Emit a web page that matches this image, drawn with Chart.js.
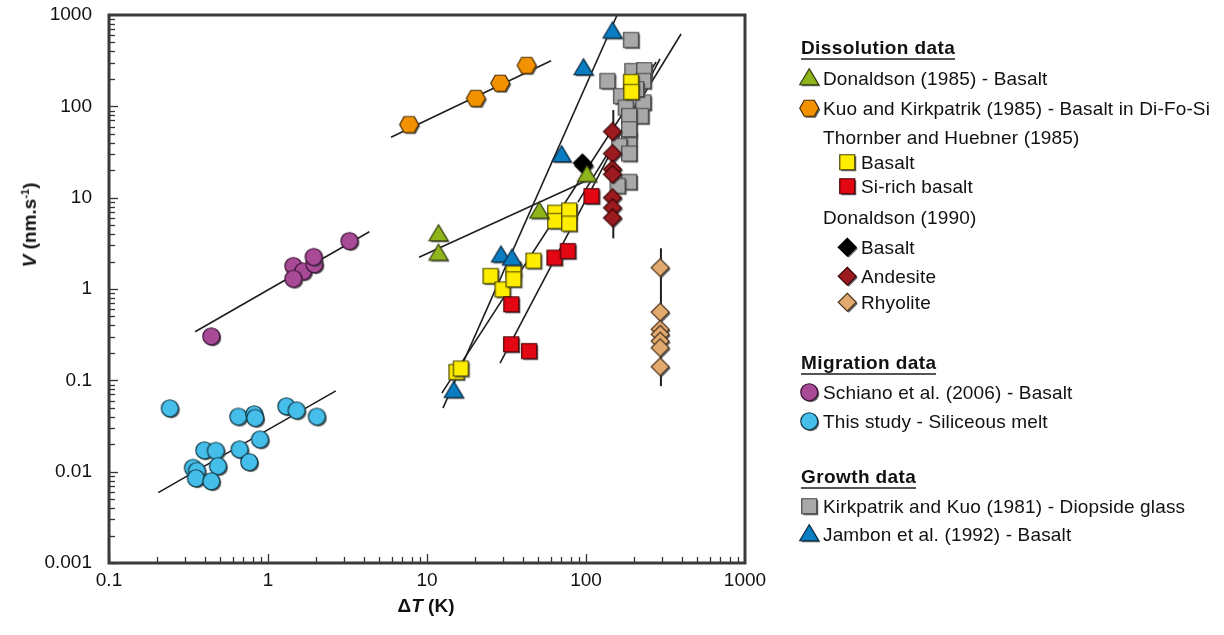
<!DOCTYPE html>
<html>
<head>
<meta charset="utf-8">
<script src="https://cdn.jsdelivr.net/npm/chart.js@4"></script>
<style>
html, body { margin: 0; padding: 0; background: #fff; }
#wrap { position: relative; width: 1224px; height: 635px; font-family: "Liberation Sans", Arial, sans-serif; color: #111; }
#c { position: absolute; left: 0; top: 0; }
.ttl { position: absolute; font-weight: bold; font-size: 19px; white-space: nowrap; }
.row { position: absolute; white-space: nowrap; font-size: 19px; letter-spacing: 0.15px; display: flex; align-items: center; height: 22px; }
.row img { margin-right: 1px; }
.hd { position: absolute; white-space: nowrap; font-weight: bold; font-size: 19px; letter-spacing: 0.4px; line-height: 20px; border-bottom: 2px solid #555; }
</style>
</head>
<body>
<div id="wrap">
  <canvas id="c" width="1224" height="635"></canvas>
  <div class="ttl" style="left:30px;top:225px;transform:translate(-50%,-50%) rotate(-90deg);"><i>V</i> (nm.s<sup style="font-size:11px">-1</sup>)</div>
  <div class="ttl" style="left:426px;top:606px;transform:translate(-50%,-50%);">&Delta;<i>T</i> (K)</div>
</div>
<script>
// axes
const xTicks = [0.1, 1, 10, 100, 1000];
const yTicks = [0.001, 0.01, 0.1, 1, 10, 100, 1000];

// Dissolution data
const donaldson85X = [11.95, 11.95, 51.4, 102.5];
const donaldson85Y = [3.9, 2.39, 6.9, 17.4];
const kuoX = [7.8, 20.5, 29.2, 42.8];
const kuoY = [62, 120, 176, 276];
const thornBasaltX = [15.5, 16.5, 25.4, 30.2, 35.4, 35.4, 47.3, 64.8, 64.8, 79.3, 79.3, 194, 195];
const thornBasaltY = [0.121, 0.132, 1.36, 0.97, 1.6, 1.25, 2.0, 6.7, 5.45, 7.1, 5.1, 181, 141];
const thornSiX = [34.3, 34.2, 44.4, 64.1, 77.8, 109.6];
const thornSiY = [0.667, 0.243, 0.205, 2.16, 2.55, 10.2];
const don90BasaltX = [96, 98];
const don90BasaltY = [23.5, 22];
const andesiteX = [148.5, 148.5, 148.5, 148.5, 148.5, 148.5, 148.5];
const andesiteY = [51.9, 29.8, 20.1, 17.7, 9.8, 7.6, 5.9];
const rhyoliteX = [296, 296, 296, 296, 296, 296, 296];
const rhyoliteY = [1.68, 0.548, 0.355, 0.313, 0.264, 0.223, 0.138];

// Migration data
const schianoX = [0.445, 1.46, 1.68, 1.46, 1.98, 1.96, 3.29];
const schianoY = [0.297, 1.75, 1.53, 1.27, 1.83, 2.2, 3.29];
const thisStudyX = [0.244, 0.658, 0.828, 0.84, 1.32, 1.53, 2.05, 0.90, 0.402, 0.475, 0.67, 0.77, 0.49, 0.341, 0.361, 0.356, 0.445];
const thisStudyY = [0.0484, 0.0393, 0.0416, 0.038, 0.0509, 0.046, 0.0393, 0.0221, 0.0168, 0.0166, 0.0172, 0.0125, 0.0113, 0.0108, 0.0100, 0.0083, 0.0077];

// Growth data
const kirkX = [194, 138, 198, 235, 232, 168, 180, 232, 224, 189, 189, 164, 189, 189, 160, 209, 189];
const kirkY = [523, 186, 239, 244, 186, 127, 95, 108, 77, 77, 42.8, 36.1, 29.8, 14.6, 13.2, 151, 55];
const jambonX = [148.5, 97.5, 71, 29.5, 34.6, 14.9];
const jambonY = [646, 256, 28.6, 2.28, 2.11, 0.075];

// fitted lines (end points)
const fitSchianoX = [0.348, 4.34], fitSchianoY = [0.34, 4.23];
const fitThisX = [0.204, 2.67], fitThisY = [0.0059, 0.0767];
const fitKuoX = [5.94, 60.3], fitKuoY = [45.9, 316];
const fitDon85X = [8.91, 103], fitDon85Y = [2.23, 15.6];
const fitJambonX = [12.6, 157], fitJambonY = [0.0496, 1000];
const fitThornBX = [12.4, 276], fitThornBY = [0.0724, 306];
const fitThornSiX = [28.8, 292], fitThornSiY = [0.154, 330];
const fitDon90X = [89, 396], fitDon90Y = [8.95, 619];

// error bars
const andesiteErrX = [148.5, 148.5], andesiteErrY = [3.58, 91];
const rhyoliteErrX = [296, 296], rhyoliteErrY = [0.0864, 2.79];

const pts = (xs, ys) => xs.map((x, i) => ({ x: x, y: ys[i] }));

function makeMarker(shape, fill, stroke) {
  const s = 24;
  const c = document.createElement('canvas');
  c.width = s; c.height = s;
  const g = c.getContext('2d');
  const cx = s / 2 - 0.75, cy = s / 2 - 0.75;
  const path = (ox, oy) => {
    const x = cx + ox, y = cy + oy;
    g.beginPath();
    if (shape === 'circle') g.arc(x, y, 8.5, 0, Math.PI * 2);
    else if (shape === 'square') g.rect(x - 7.5, y - 7.5, 15, 15);
    else if (shape === 'triangle') { g.moveTo(x, y - 9.5); g.lineTo(x + 9.5, y + 6.5); g.lineTo(x - 9.5, y + 6.5); g.closePath(); }
    else if (shape === 'diamond') { g.moveTo(x, y - 9); g.lineTo(x + 9, y); g.lineTo(x, y + 9); g.lineTo(x - 9, y); g.closePath(); }
    else if (shape === 'hexagon') { g.moveTo(x - 9.5, y); g.lineTo(x - 5, y - 8); g.lineTo(x + 5, y - 8); g.lineTo(x + 9.5, y); g.lineTo(x + 5, y + 8); g.lineTo(x - 5, y + 8); g.closePath(); }
  };
  path(1.5, 1.5);
  g.fillStyle = 'rgba(70,70,70,0.85)';
  g.fill();
  path(0, 0);
  g.fillStyle = fill;
  g.fill();
  g.lineWidth = 1.2;
  g.strokeStyle = stroke;
  g.stroke();
  return c;
}

const mk = {
  green: makeMarker('triangle', '#8fb51c', '#33400a'),
  orange: makeMarker('hexagon', '#f39200', '#4a2c00'),
  yellow: makeMarker('square', '#ffed00', '#4a4400'),
  red: makeMarker('square', '#e30613', '#4a0005'),
  black: makeMarker('diamond', '#000000', '#000000'),
  andesite: makeMarker('diamond', '#9b1b1f', '#3a0507'),
  rhyolite: makeMarker('diamond', '#e2aa6f', '#4a3520'),
  purple: makeMarker('circle', '#a94a97', '#3a1034'),
  cyan: makeMarker('circle', '#45bfea', '#123c4c'),
  gray: makeMarker('square', '#a9a9a9', '#444444'),
  blue: makeMarker('triangle', '#0a7dc2', '#062a44')
};

function scatter(label, xs, ys, marker, order) {
  return { label: label, data: pts(xs, ys), pointStyle: marker, pointRadius: 9, showLine: false, order: order };
}
function line(xs, ys, width, order) {
  return { data: pts(xs, ys), showLine: true, pointRadius: 0, borderColor: '#1e1e1e', borderWidth: width, order: order };
}

const axesFrame = {
  id: 'axesFrame',
  afterDatasetsDraw(chart) {
    const { ctx, chartArea: a, scales: { x, y } } = chart;
    ctx.save();
    ctx.strokeStyle = '#333';
    ctx.lineWidth = 1.3;
    for (let e = -1; e < 3; e++) {
      for (let k = 1; k < 10; k++) {
        const px = Math.round(x.getPixelForValue(k * Math.pow(10, e))) + 0.5;
        const len = k === 1 ? 9 : 6;
        ctx.beginPath(); ctx.moveTo(px, a.bottom); ctx.lineTo(px, a.bottom - len); ctx.stroke();
      }
    }
    for (let e = -3; e < 3; e++) {
      for (let k = 1; k < 10; k++) {
        const py = Math.round(y.getPixelForValue(k * Math.pow(10, e))) + 0.5;
        const len = k === 1 ? 9 : 6;
        ctx.beginPath(); ctx.moveTo(a.left, py); ctx.lineTo(a.left + len, py); ctx.stroke();
      }
    }
    ctx.lineWidth = 3;
    ctx.strokeStyle = '#3a3a3a';
    ctx.strokeRect(a.left, a.top, a.right - a.left, a.bottom - a.top);
    ctx.restore();
  }
};

const tickFont = { family: 'Liberation Sans', size: 19 };

new Chart(document.getElementById('c'), {
  type: 'scatter',
  data: {
    datasets: [
      scatter('Donaldson (1985) - Basalt', donaldson85X, donaldson85Y, mk.green, 4),
      scatter('Kuo and Kirkpatrik (1985) - Basalt in Di-Fo-Si', kuoX, kuoY, mk.orange, 4),
      scatter('Basalt', thornBasaltX, thornBasaltY, mk.yellow, 8),
      scatter('Si-rich basalt', thornSiX, thornSiY, mk.red, 7),
      scatter('Basalt', don90BasaltX, don90BasaltY, mk.black, 5),
      scatter('Andesite', andesiteX, andesiteY, mk.andesite, 6),
      scatter('Rhyolite', rhyoliteX, rhyoliteY, mk.rhyolite, 6),
      scatter('Schiano et al. (2006) - Basalt', schianoX, schianoY, mk.purple, 4),
      scatter('This study - Siliceous melt', thisStudyX, thisStudyY, mk.cyan, 4),
      scatter('Kirkpatrik and Kuo (1981) - Diopside glass', kirkX, kirkY, mk.gray, 9),
      scatter('Jambon et al. (1992) - Basalt', jambonX, jambonY, mk.blue, 3),
      line(fitSchianoX, fitSchianoY, 1.6, 20),
      line(fitThisX, fitThisY, 1.6, 20),
      line(fitKuoX, fitKuoY, 1.6, 20),
      line(fitDon85X, fitDon85Y, 1.6, 20),
      line(fitJambonX, fitJambonY, 1.6, 20),
      line(fitThornBX, fitThornBY, 1.6, 20),
      line(fitThornSiX, fitThornSiY, 1.6, 20),
      line(fitDon90X, fitDon90Y, 1.6, 20),
      line(andesiteErrX, andesiteErrY, 2, 15),
      line(rhyoliteErrX, rhyoliteErrY, 2, 15)
    ]
  },
  options: {
    responsive: false,
    animation: false,
    events: [],
    devicePixelRatio: 1,
    layout: { autoPadding: false, padding: { left: 0, right: 479, top: 15, bottom: 0 } },
    scales: {
      x: {
        type: 'logarithmic',
        min: 0.1,
        max: 1000,
        afterBuildTicks: s => { s.ticks = xTicks.map(v => ({ value: v })); },
        afterFit: s => { s.height = 72; s.paddingLeft = 0; s.paddingRight = 0; },
        grid: { display: false, drawTicks: false },
        border: { display: false },
        ticks: { autoSkip: false, maxRotation: 0, padding: 6, color: '#111', font: tickFont, callback: v => String(v) }
      },
      y: {
        type: 'logarithmic',
        min: 0.001,
        max: 1000,
        afterBuildTicks: s => { s.ticks = yTicks.map(v => ({ value: v })); },
        afterFit: s => { s.width = 109; s.paddingTop = 0; s.paddingBottom = 0; },
        grid: { display: false, drawTicks: false },
        border: { display: false },
        ticks: { autoSkip: false, padding: 17, color: '#111', font: tickFont, callback: v => String(v) }
      }
    },
    plugins: {
      legend: { display: false },
      tooltip: { enabled: false }
    }
  },
  plugins: [axesFrame]
});

// legend drawn as html on the right
const legendRows = [
  { head: 'Dissolution data', x: 801, y: 48 },
  { img: 'green', text: 'Donaldson (1985) - Basalt', x: 798, y: 79 },
  { img: 'orange', text: 'Kuo and Kirkpatrik (1985) - Basalt in Di-Fo-Si', x: 798, y: 109 },
  { text: 'Thornber and Huebner (1985)', x: 823, y: 138 },
  { img: 'yellow', text: 'Basalt', x: 836, y: 163 },
  { img: 'red', text: 'Si-rich basalt', x: 836, y: 187 },
  { text: 'Donaldson (1990)', x: 823, y: 218 },
  { img: 'black', text: 'Basalt', x: 836, y: 248 },
  { img: 'andesite', text: 'Andesite', x: 836, y: 277 },
  { img: 'rhyolite', text: 'Rhyolite', x: 836, y: 303 },
  { head: 'Migration data', x: 801, y: 363 },
  { img: 'purple', text: 'Schiano et al. (2006) - Basalt', x: 798, y: 393 },
  { img: 'cyan', text: 'This study - Siliceous melt', x: 798, y: 422 },
  { head: 'Growth data', x: 801, y: 477 },
  { img: 'gray', text: 'Kirkpatrik and Kuo (1981) - Diopside glass', x: 798, y: 507 },
  { img: 'blue', text: 'Jambon et al. (1992) - Basalt', x: 798, y: 535 }
];
const wrap = document.getElementById('wrap');
legendRows.forEach(r => {
  const d = document.createElement('div');
  if (r.head) {
    d.className = 'hd';
    d.textContent = r.head;
    d.style.left = r.x + 'px';
    d.style.top = (r.y - 10) + 'px';
  } else {
    d.className = 'row';
    d.style.left = r.x + 'px';
    d.style.top = (r.y - 11) + 'px';
    if (r.img) {
      const im = document.createElement('img');
      im.src = mk[r.img].toDataURL();
      im.width = 24; im.height = 24;
      d.appendChild(im);
    }
    d.appendChild(document.createTextNode(r.text));
  }
  wrap.appendChild(d);
});
</script>
</body>
</html>
